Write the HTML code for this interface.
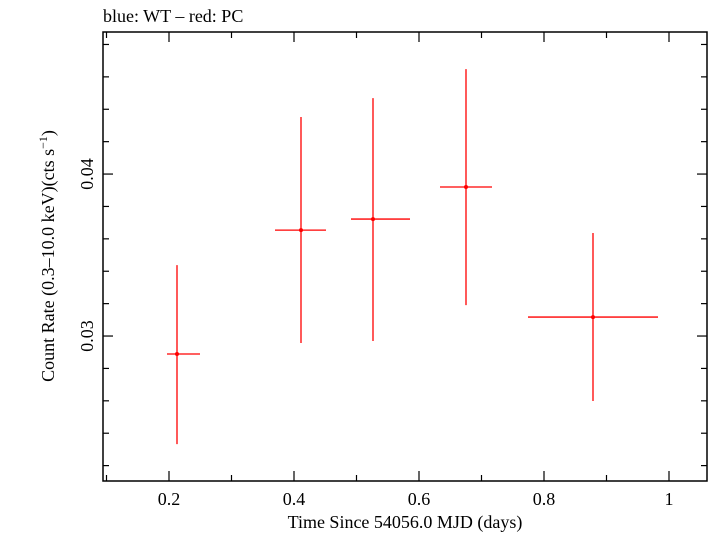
<!DOCTYPE html>
<html><head><meta charset="utf-8"><style>
body{margin:0;background:#fff}
svg text{font-family:"Liberation Serif",serif;fill:#000}
</style></head><body>
<svg id="c" width="709" height="532" xmlns="http://www.w3.org/2000/svg">
<text x="103" y="22" font-size="18">blue: WT – red: PC</text>
<rect x="103" y="32" width="604" height="449" fill="none" stroke="#000" stroke-width="1.5"/>
<text x="405" y="528" font-size="18" text-anchor="middle">Time Since 54056.0 MJD (days)</text>
<text transform="translate(54,256) rotate(-90)" font-size="18" text-anchor="middle">Count Rate (0.3–10.0 keV)(cts s<tspan baseline-shift="super" font-size="12">−1</tspan>)</text>
<g id="ax"></g><g id="marks"></g>
</svg>
<script>
const times=[0.2128,0.4112,0.5264,0.6752,0.8784];
const timeLo=[0.1968,0.3696,0.4912,0.6336,0.7744];
const timeHi=[0.2496,0.4512,0.5856,0.7168,0.9824];
const rates=[0.02889,0.03654,0.03722,0.0392,0.03117];
const rateLo=[0.02333,0.02957,0.02969,0.03191,0.02599];
const rateHi=[0.03438,0.04352,0.04469,0.04648,0.03636];
const xTicks=[0.2,0.4,0.6,0.8,1.0];
const xTickLabels=["0.2","0.4","0.6","0.8","1"];
const yTicks=[0.03,0.04];
const yTickLabels=["0.03","0.04"];
const X0=103,X1=707,Y0=32,Y1=481,xmin=0.0944,xmax=1.0608,ymin=0.02105,ymax=0.04877;
const xs=v=>X0+(v-xmin)/(xmax-xmin)*(X1-X0);
const ys=v=>Y1-(v-ymin)/(ymax-ymin)*(Y1-Y0);
const NS="http://www.w3.org/2000/svg";
const ax=document.getElementById('ax'),mk=document.getElementById('marks');
function ln(p,x1,y1,x2,y2,c,w){const l=document.createElementNS(NS,'line');l.setAttribute('x1',x1);l.setAttribute('y1',y1);l.setAttribute('x2',x2);l.setAttribute('y2',y2);l.setAttribute('stroke',c);l.setAttribute('stroke-width',w);p.appendChild(l);return l;}
for(let v=0.1;v<=1.06;v+=0.1){const x=xs(v);const major=Math.abs(Math.round(v*10)%2)===0;const L=major?10:6;
const a=ln(ax,x,Y1,x,Y1-L,'#000',1.2);


const b=ln(ax,x,Y0,x,Y0+L,'#000',1.2);

}
xTicks.forEach((v,i)=>{const t=document.createElementNS(NS,'text');t.setAttribute('x',xs(v));t.setAttribute('y',505);t.setAttribute('font-size','18');t.setAttribute('text-anchor','middle');t.textContent=xTickLabels[i];


ax.appendChild(t);});
for(let k=11;k<=48;k++){const v=k*0.001;if(v<ymin||v>ymax)continue;if(k%2)continue;const y=ys(v);const L=(k%10===0)?10:6;
const a=ln(ax,X0,y,X0+L,y,'#000',1.2);


const b=ln(ax,X1,y,X1-L,y,'#000',1.2);

}
yTicks.forEach((v,i)=>{const t=document.createElementNS(NS,'text');t.setAttribute('transform','translate(93,'+ys(v)+') rotate(-90)');t.setAttribute('font-size','18');t.setAttribute('text-anchor','middle');t.textContent=yTickLabels[i];


ax.appendChild(t);});
times.forEach((t,i)=>{
const h=ln(mk,xs(timeLo[i]),ys(rates[i]),xs(timeHi[i]),ys(rates[i]),'#f00',1.3);


const v=ln(mk,xs(t),ys(rateLo[i]),xs(t),ys(rateHi[i]),'#f00',1.3);


const c=document.createElementNS(NS,'circle');c.setAttribute('cx',xs(t));c.setAttribute('cy',ys(rates[i]));c.setAttribute('r',2);c.setAttribute('fill','#f00');


mk.appendChild(c);});
</script>
</body></html>
